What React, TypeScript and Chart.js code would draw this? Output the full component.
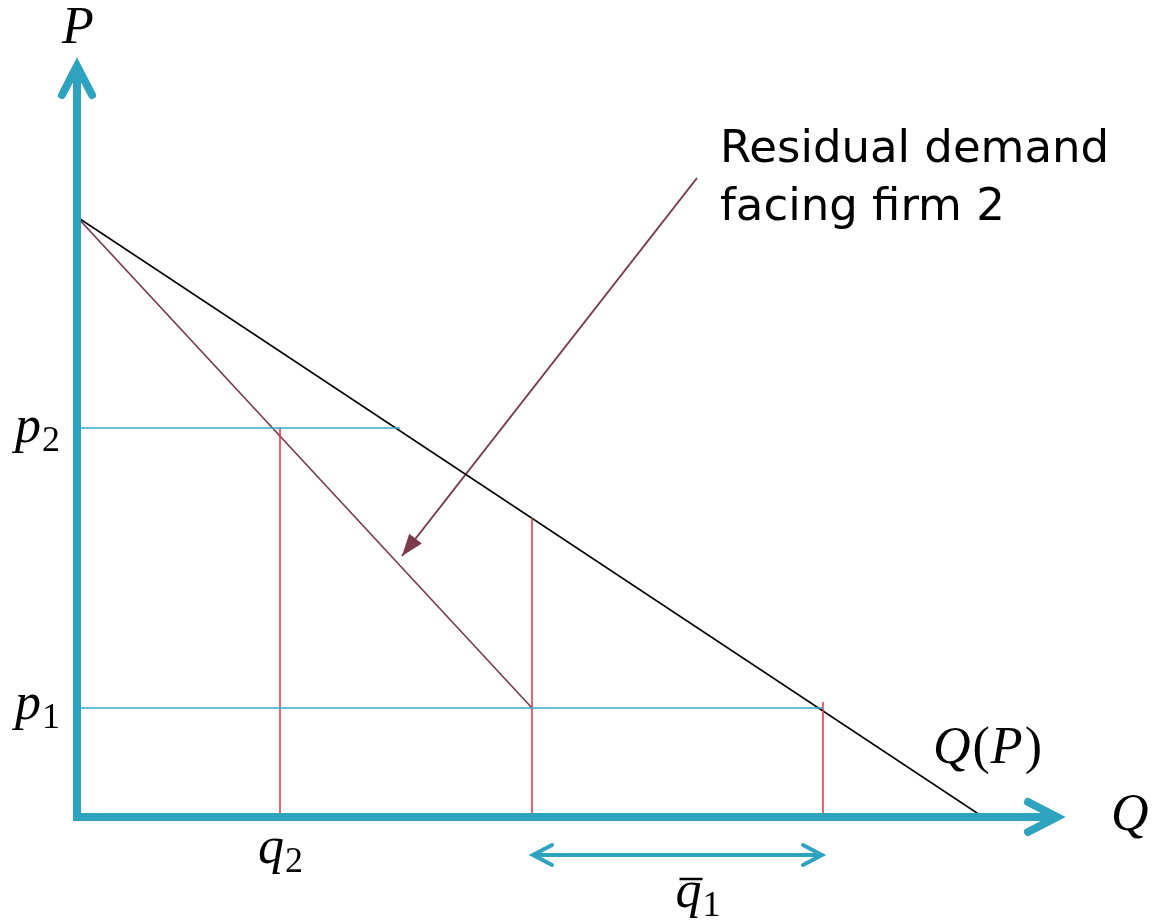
import { useEffect, useRef } from "react";
import { Chart, registerables } from "chart.js";

Chart.register(...registerables);

// Market demand Q(P): endpoints (quantity, price)
const demandQ = [0, 90.6];
const demandP = [60, 0];

// Residual demand facing firm 2 (proportional rationing)
const residualQ = [0, 45.5];
const residualP = [60, 10.9];

// Prices of the two firms
const p1 = 10.9;
const p2 = 38.9;
// How far the price guides reach to the right
const p1GuideEnd = 74.6;
const p2GuideEnd = 32.3;

// Vertical guides: quantity and the price they rise to
const dropQ = [20.3, 45.5, 74.6];
const dropTop = [38.9, 29.9, 11.5];

// Firm 1's capacity q̄1 shown as a span on the quantity axis
const capacitySpan = [45.5, 74.6];

// Callout arrow pointing at the residual demand curve
const calloutFrom = [62.0, 63.9];
const calloutTo = [32.5, 26.1];
const calloutText = ["Residual demand", "facing firm 2"];

// Where the demand curve's own label sits
const demandLabelAt = [85.6, 5.4];

// Axis extents
const qMax = 98.1;
const pMax = 75.2;

const AXIS = "#2ea3c0";
const GUIDE = "#34a7c4";
const RED = "#e8303a";
const MAROON = "#7b3a4c";
const MATH = "'Liberation Serif', serif";
const MATH_SIZE = 52;
const SUB_SIZE = 36;

function drawMath(
  ctx: CanvasRenderingContext2D,
  base: string,
  sub: string,
  x: number,
  y: number,
  bar = false
) {
  ctx.save();
  ctx.fillStyle = "#000";
  ctx.textBaseline = "alphabetic";
  ctx.textAlign = "left";
  ctx.font = `italic ${MATH_SIZE}px ${MATH}`;
  ctx.fillText(base, x, y);
  const w = ctx.measureText(base).width;
  if (bar) {
    ctx.strokeStyle = "#000";
    ctx.lineWidth = 2.5;
    ctx.beginPath();
    ctx.moveTo(x + 4, y - 28);
    ctx.lineTo(x + w + 1, y - 28);
    ctx.stroke();
  }
  if (sub) {
    ctx.font = `${SUB_SIZE}px ${MATH}`;
    ctx.fillText(sub, x + w + 1, y + 9);
  }
  ctx.restore();
}

// Mixed italic / upright run, e.g. Q(P) with upright parentheses
function drawRun(
  ctx: CanvasRenderingContext2D,
  parts: [string, boolean][],
  x: number,
  y: number
) {
  ctx.save();
  ctx.fillStyle = "#000";
  ctx.textBaseline = "alphabetic";
  ctx.textAlign = "left";
  let cx = x;
  for (const [t, italic] of parts) {
    ctx.font = `${italic ? "italic " : ""}${MATH_SIZE}px ${MATH}`;
    ctx.fillText(t, cx, y);
    cx += ctx.measureText(t).width + (italic ? 2 : 1);
  }
  ctx.restore();
}

const diagramPlugin = {
  id: "diagram",
  afterDatasetsDraw(chart: any) {
    const ctx: CanvasRenderingContext2D = chart.ctx;
    const xs = chart.scales.x;
    const ys = chart.scales.y;
    const x0 = xs.getPixelForValue(0);
    const y0 = ys.getPixelForValue(0);
    const xTip = xs.getPixelForValue(qMax);
    const yTip = ys.getPixelForValue(pMax);

    // Axes with open arrowheads
    ctx.save();
    ctx.strokeStyle = AXIS;
    ctx.lineWidth = 8;
    ctx.lineCap = "butt";
    ctx.beginPath();
    ctx.moveTo(x0, y0 + 4);
    ctx.lineTo(x0, yTip + 2);
    ctx.moveTo(x0 - 4, y0);
    ctx.lineTo(xTip - 2, y0);
    ctx.stroke();
    ctx.lineCap = "round";
    ctx.lineJoin = "miter";
    ctx.beginPath();
    ctx.moveTo(x0 - 15, yTip + 30);
    ctx.lineTo(x0, yTip + 1);
    ctx.lineTo(x0 + 15, yTip + 30);
    ctx.moveTo(xTip - 30, y0 - 15);
    ctx.lineTo(xTip - 1, y0);
    ctx.lineTo(xTip - 30, y0 + 15);
    ctx.stroke();

    // Capacity span double arrow
    const ya = y0 + 38;
    const xa = xs.getPixelForValue(capacitySpan[0]);
    const xb = xs.getPixelForValue(capacitySpan[1]);
    ctx.lineWidth = 4;
    ctx.strokeStyle = AXIS;
    ctx.lineCap = "round";
    ctx.beginPath();
    ctx.moveTo(xa + 2, ya);
    ctx.lineTo(xb - 2, ya);
    ctx.moveTo(xa + 20, ya - 10);
    ctx.lineTo(xa + 1, ya);
    ctx.lineTo(xa + 20, ya + 10);
    ctx.moveTo(xb - 20, ya - 10);
    ctx.lineTo(xb - 1, ya);
    ctx.lineTo(xb - 20, ya + 10);
    ctx.stroke();

    // Callout arrowhead
    const fx = xs.getPixelForValue(calloutFrom[0]);
    const fy = ys.getPixelForValue(calloutFrom[1]);
    const tx = xs.getPixelForValue(calloutTo[0]);
    const ty = ys.getPixelForValue(calloutTo[1]);
    const ang = Math.atan2(ty - fy, tx - fx);
    const len = 22;
    const half = 8;
    const bx = tx - len * Math.cos(ang);
    const by = ty - len * Math.sin(ang);
    ctx.fillStyle = MAROON;
    ctx.beginPath();
    ctx.moveTo(tx, ty);
    ctx.lineTo(bx + half * Math.sin(ang), by - half * Math.cos(ang));
    ctx.lineTo(bx - half * Math.sin(ang), by + half * Math.cos(ang));
    ctx.closePath();
    ctx.fill();

    // Callout text
    ctx.fillStyle = "#000";
    ctx.font = "45px 'DejaVu Sans', sans-serif";
    ctx.textAlign = "left";
    ctx.textBaseline = "alphabetic";
    ctx.fillText(calloutText[0], fx + 23, fy - 16);
    ctx.fillText(calloutText[1], fx + 23, fy + 42);
    ctx.restore();

    // Axis names
    ctx.save();
    ctx.fillStyle = "#000";
    ctx.font = `italic ${MATH_SIZE}px ${MATH}`;
    ctx.textBaseline = "alphabetic";
    ctx.textAlign = "center";
    ctx.fillText("P", x0 + 1, yTip - 22);
    ctx.textAlign = "left";
    ctx.fillText("Q", xTip + 53, y0 + 13);
    ctx.restore();

    drawRun(
      ctx,
      [
        ["Q", true],
        ["(", false],
        ["P", true],
        [")", false],
      ],
      xs.getPixelForValue(demandLabelAt[0]),
      ys.getPixelForValue(demandLabelAt[1])
    );

    drawMath(ctx, "p", "2", x0 - 62, ys.getPixelForValue(p2) + 14);
    drawMath(ctx, "p", "1", x0 - 62, ys.getPixelForValue(p1) + 11);
    drawMath(ctx, "q", "2", xs.getPixelForValue(dropQ[0]) - 22, y0 + 46);
    drawMath(ctx, "q", "1", (xa + xb) / 2 - 2, y0 + 90, true);
  },
};

function line(q: number[], p: number[], color: string, width: number) {
  return {
    data: q.map((v, i) => ({ x: v, y: p[i] })),
    showLine: true,
    borderColor: color,
    backgroundColor: color,
    borderWidth: width,
    pointRadius: 0,
    fill: false,
  };
}

export default function App() {
  const ref = useRef<HTMLCanvasElement>(null);

  useEffect(() => {
    if (!ref.current) return;
    const datasets: any[] = [
      line([0, p1GuideEnd], [p1, p1], GUIDE, 1.5),
      line([0, p2GuideEnd], [p2, p2], GUIDE, 1.5),
      ...dropQ.map((q, i) => line([q, q], [0, dropTop[i]], RED, 1.5)),
      line(demandQ, demandP, "#000", 1.6),
      line(residualQ, residualP, MAROON, 1.6),
      line(
        [calloutFrom[0], calloutTo[0]],
        [calloutFrom[1], calloutTo[1]],
        MAROON,
        2
      ),
    ];
    const chart = new Chart(ref.current, {
      type: "scatter",
      data: { datasets },
      options: {
        animation: false,
        responsive: false,
        devicePixelRatio: 1,
        layout: { padding: { left: 77, right: 95, top: 65, bottom: 106 } },
        plugins: {
          legend: { display: false },
          tooltip: { enabled: false },
        },
        scales: {
          x: { type: "linear", min: 0, max: qMax, display: false },
          y: { type: "linear", min: 0, max: pMax, display: false },
        },
      },
      plugins: [diagramPlugin],
    });
    return () => chart.destroy();
  }, []);

  return (
    <div
      style={{
        position: "absolute",
        left: 0,
        top: 0,
        width: 1153,
        height: 923,
        background: "#fff",
      }}
    >
      <canvas ref={ref} width={1153} height={923} />
    </div>
  );
}
